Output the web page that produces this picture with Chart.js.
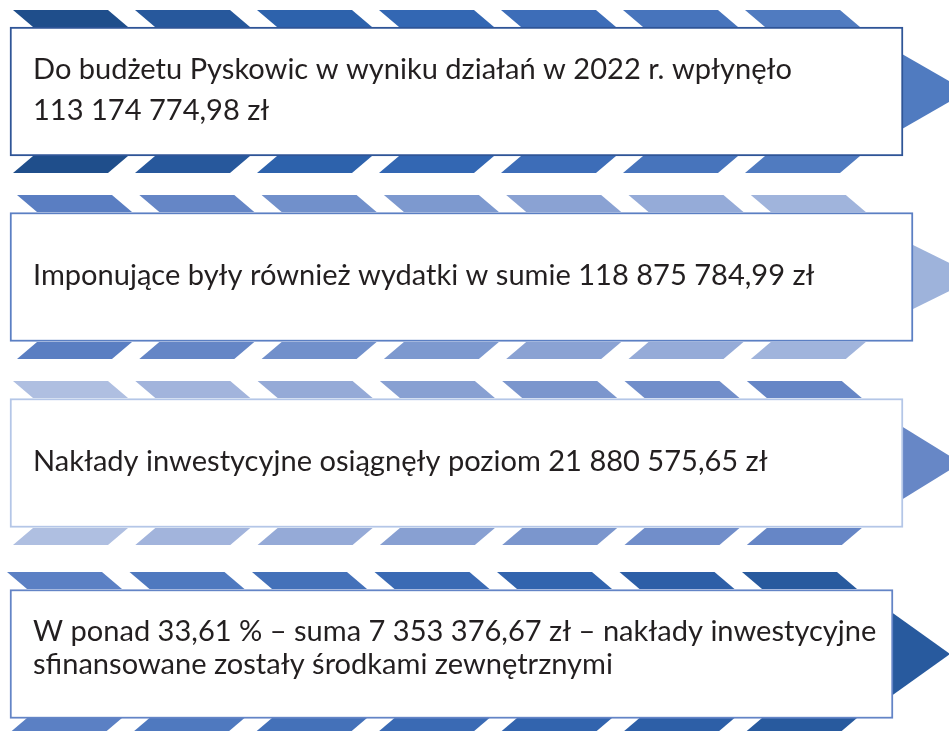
<!DOCTYPE html>
<html>
<head>
<meta charset="utf-8">
<script src="https://cdn.jsdelivr.net/npm/chart.js@4.4.1/dist/chart.umd.min.js"></script>
<style>
  html, body { margin: 0; padding: 0; background: #ffffff; }
  #wrap { width: 949px; height: 731px; }
</style>
</head>
<body>
<div id="wrap"><canvas id="c" width="949" height="731"></canvas></div>
<script>
// ---- data ----
const categories = ["Dochody", "Wydatki", "Inwestycje", "Środki zewnętrzne"];
const line1 = [
  "Do budżetu Pyskowic w wyniku działań w 2022 r. wpłynęło",
  "Imponujące były również wydatki w sumie 118 875 784,99 zł",
  "Nakłady inwestycyjne osiągnęły poziom 21 880 575,65 zł",
  "W ponad 33,61 % – suma 7 353 376,67 zł – nakłady inwestycyjne"
];
const line2 = [
  "113 174 774,98 zł",
  "",
  "",
  "sfinansowane zostały środkami zewnętrznymi"
];

// ---- layout & styles (pixel units on hidden linear axes) ----
const layout = [
  { cy: 91.5, x0: 10, x1: 903, stripTop: 10,  stripBot: 156, segX: 13, pitch: 122,   base: 903, half: 37.5, tip: 967, baselines: [79, 120] },
  { cy: 277,  x0: 10, x1: 913, stripTop: 195, stripBot: 342, segX: 17, pitch: 122.3, base: 913, half: 32.5, tip: 978, baselines: [285] },
  { cy: 463,  x0: 10, x1: 903, stripTop: 381, stripBot: 528, segX: 13, pitch: 122.3, base: 903, half: 36.5, tip: 961, baselines: [471] },
  { cy: 654,  x0: 10, x1: 893, stripTop: 572, stripBot: 718, segX: 7,  pitch: 122.5, base: 893, half: 41.5, tip: 950, baselines: [641, 674] }
];
const borderColors = ["#2F5597", "#5B7FC3", "#B4C6E7", "#6384C6"];
const segColors = [
  ["#1F4E8B", "#27589C", "#2D62AC", "#3367B3", "#3D6DB8", "#4774BC", "#507BC0"],
  ["#5A7EC2", "#6586C6", "#7190CB", "#7D99CF", "#8AA2D3", "#95ABD8", "#A0B4DC"],
  ["#AFBFE1", "#A2B4DC", "#95AAD7", "#88A0D2", "#7B96CD", "#718ECA", "#6686C6"],
  ["#5B80C4", "#4F79BF", "#4471B9", "#3A6AB4", "#3264AE", "#2D5FA7", "#285A9E"]
];
const arrowColors = ["#507BC0", "#9EB3DB", "#6787C6", "#285A9E"];
const STRIP_H = 17, SEG_W = 95, SLANT = 20, SEGS = 7;
const TEXT_X = 33;
const TEXT_COLOR = "#231F20";

const chevronPlugin = {
  id: "chevrons",
  beforeDatasetsDraw(chart) {
    const ctx = chart.ctx, xs = chart.scales.x, ys = chart.scales.y;
    const X = v => xs.getPixelForValue(v), Y = v => ys.getPixelForValue(v);
    ctx.save();
    layout.forEach((r, i) => {
      for (let k = 0; k < SEGS; k++) {
        const sx = r.segX + k * r.pitch;
        ctx.fillStyle = segColors[i][k];
        // top strip "\" slant
        ctx.beginPath();
        ctx.moveTo(X(sx), Y(r.stripTop));
        ctx.lineTo(X(sx + SEG_W), Y(r.stripTop));
        ctx.lineTo(X(sx + SEG_W + SLANT), Y(r.stripTop + STRIP_H));
        ctx.lineTo(X(sx + SLANT), Y(r.stripTop + STRIP_H));
        ctx.closePath();
        ctx.fill();
        // bottom strip "/" slant
        ctx.beginPath();
        ctx.moveTo(X(sx + SLANT), Y(r.stripBot));
        ctx.lineTo(X(sx + SEG_W + SLANT), Y(r.stripBot));
        ctx.lineTo(X(sx + SEG_W), Y(r.stripBot + STRIP_H));
        ctx.lineTo(X(sx), Y(r.stripBot + STRIP_H));
        ctx.closePath();
        ctx.fill();
      }
      // arrow head
      ctx.fillStyle = arrowColors[i];
      ctx.beginPath();
      ctx.moveTo(X(r.base - 1), Y(r.cy - r.half));
      ctx.lineTo(X(r.tip), Y(r.cy));
      ctx.lineTo(X(r.base - 1), Y(r.cy + r.half));
      ctx.closePath();
      ctx.fill();
    });
    ctx.restore();
  },
  afterDatasetsDraw(chart) {
    const ctx = chart.ctx, xs = chart.scales.x, ys = chart.scales.y;
    ctx.save();
    // fit font size so that the widest single line matches the reference width
    let size = 26;
    ctx.font = size + "px Lato";
    const w = ctx.measureText(line1[1]).width;
    size = size * (815 - TEXT_X) / w;
    ctx.font = size.toFixed(2) + "px Lato";
    ctx.fillStyle = TEXT_COLOR;
    ctx.textBaseline = "alphabetic";
    ctx.textAlign = "left";
    layout.forEach((r, i) => {
      const lines = [line1[i], line2[i]].filter(s => s);
      lines.forEach((t, j) => {
        ctx.fillText(t, xs.getPixelForValue(TEXT_X), ys.getPixelForValue(r.baselines[j]));
      });
    });
    ctx.restore();
  }
};

function draw() {
  new Chart(document.getElementById("c"), {
    type: "bar",
    data: {
      labels: categories,
      datasets: [{
        label: "boxes",
        data: layout.map(r => ({ y: r.cy, x: [r.x0, r.x1] })),
        backgroundColor: "#ffffff",
        borderColor: borderColors,
        borderWidth: 2,
        borderSkipped: false,
        barThickness: 129,
        grouped: false
      }]
    },
    options: {
      indexAxis: "y",
      responsive: false,
      animation: false,
      devicePixelRatio: 1,
      layout: { padding: 0 },
      plugins: { legend: { display: false }, tooltip: { enabled: false } },
      scales: {
        x: { type: "linear", min: 0, max: 949, display: false, offset: false, grace: 0 },
        y: { type: "linear", min: 0, max: 731, reverse: true, display: false, offset: false, grace: 0 }
      }
    },
    plugins: [chevronPlugin]
  });
}
if (document.fonts && document.fonts.load) {
  document.fonts.load("26px Lato").then(draw, draw);
} else { draw(); }
</script>
</body>
</html>
